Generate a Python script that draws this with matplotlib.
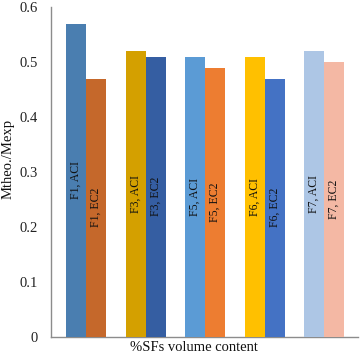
import matplotlib
matplotlib.use("Agg")
import matplotlib.pyplot as plt
import numpy as np

groups = ["F1", "F3", "F5", "F6", "F7"]
aci = [0.57, 0.52, 0.51, 0.51, 0.52]
ec2 = [0.47, 0.51, 0.49, 0.47, 0.50]
aci_colors = ["#4a7eb0", "#d4a000", "#5b9bd5", "#ffc000", "#adc6e5"]
ec2_colors = ["#c5682b", "#355ea2", "#ed7d31", "#4472c4", "#f4b8a4"]

plt.rcParams['font.family'] = ['Liberation Serif', 'DejaVu Serif']

fig = plt.figure(figsize=(3.61, 3.56), dpi=100)
ax = fig.add_axes([51/361, 19/356, 307/361, 330/356])

x = np.arange(len(groups))
w = 0.336
ax.bar(x - w/2, aci, w, color=aci_colors, zorder=3)
ax.bar(x + w/2, ec2, w, color=ec2_colors, zorder=3)

# labels inside bars, centred like Excel
for i, g in enumerate(groups):
    ax.text(x[i] - w/2, aci[i]/2, g + ", ACI", rotation=90, ha='center',
            va='center', fontsize=8.5, color='#111111', zorder=4)
    ax.text(x[i] + w/2, ec2[i]/2, g + ", EC2", rotation=90, ha='center',
            va='center', fontsize=8.5, color='#111111', zorder=4)

ax.set_xlim(-0.59, 4.57)
ax.set_ylim(0, 0.6)
ax.set_yticks([0, 0.1, 0.2, 0.3, 0.4, 0.5, 0.6])
ax.set_yticklabels(["0", "0.1", "0.2", "0.3", "0.4", "0.5", "0.6"])
ax.set_xticks([])
ax.tick_params(axis='y', length=0, pad=9.5, labelsize=10.5, labelcolor='#222222')

for s in ['top', 'right']:
    ax.spines[s].set_visible(False)
for s in ['left', 'bottom']:
    ax.spines[s].set_color('#8c8c8c')
    ax.spines[s].set_linewidth(1.0)

ax.set_xlabel("%SFs volume content", fontsize=10.5, color='#111111')
ax.xaxis.set_label_coords(0.467, -0.012)
ax.set_ylabel("Mtheo./Mexp", fontsize=10.5, color='#111111')
ax.yaxis.set_label_coords(-0.118, 0.539)

fig.savefig("out.png", dpi=100)
